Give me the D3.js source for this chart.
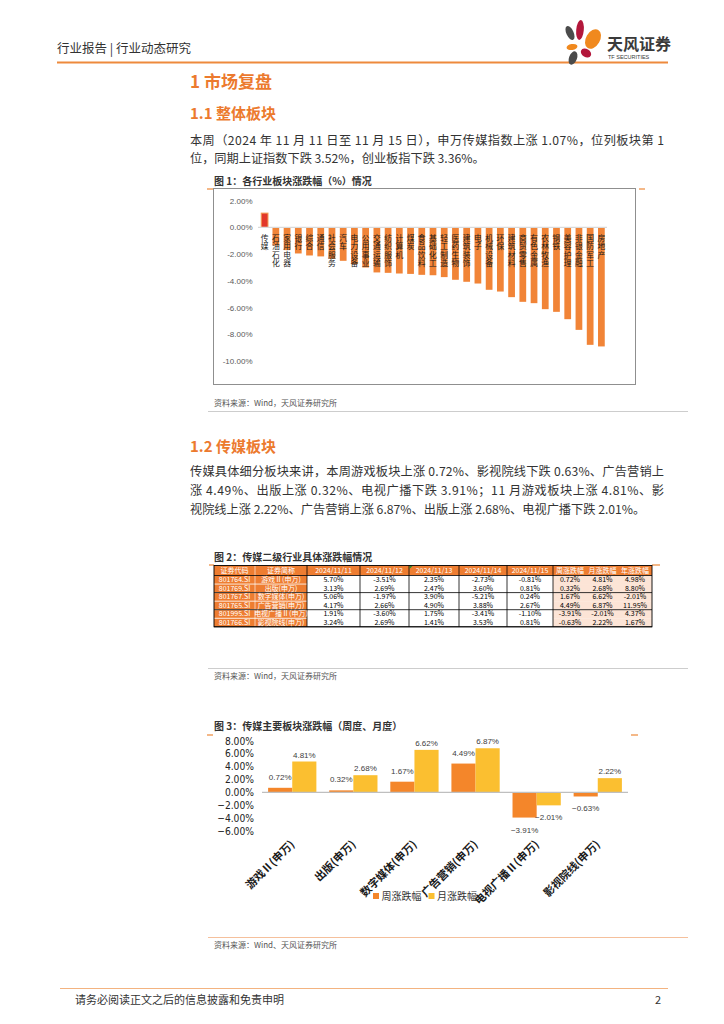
<!DOCTYPE html>
<html><head><meta charset="utf-8">
<script src="https://cdn.jsdelivr.net/npm/d3@7"></script>
<style>
html,body{margin:0;padding:0;background:#fff;}
svg{display:block;font-family:"Noto Sans CJK SC","Noto Sans",sans-serif;}
.vt{writing-mode:vertical-rl;text-orientation:upright;}
</style></head><body>
<svg id="page" width="724" height="1024"></svg>
<script>
// ---------- Figure 1 data ----------
const industries = ["传媒","石油石化","家用电器","银行","综合","通信","社会服务","汽车","电力设备","公用事业","交通运输","纺织服饰","计算机","煤炭","食品饮料","基础化工","轻工制造","医药生物","建筑装饰","电子","机械设备","环保","建筑材料","商贸零售","有色金属","农林牧渔","钢铁","美容护理","非银金融","国防军工","房地产"];
const industryChg = [1.07,-1.35,-1.70,-1.95,-2.10,-2.17,-2.35,-2.50,-2.75,-3.00,-3.37,-3.40,-3.45,-3.48,-3.55,-3.58,-3.72,-3.92,-4.07,-4.20,-4.67,-4.80,-5.22,-5.57,-5.67,-6.12,-6.32,-6.87,-7.67,-8.79,-8.91];
const fig1Ticks = [2,0,-2,-4,-6,-8,-10];

// ---------- Figure 2 data ----------
const tableCodes = ["801764.SI","801769.SI","801767.SI","801765.SI","801995.SI","801766.SI"];
const tableNames = ["游戏Ⅱ(申万)","出版(申万)","数字媒体(申万)","广告营销(申万)","电视广播Ⅱ(申万)","影视院线(申万)"];
const tableDates = ["2024/11/11","2024/11/12","2024/11/13","2024/11/14","2024/11/15"];
const dailyChg = [
  [5.70,-3.51,2.35,-2.73,-0.81],
  [3.13,2.69,2.47,3.60,0.81],
  [5.06,-1.97,3.90,-5.21,0.24],
  [4.17,2.66,4.90,3.88,2.67],
  [1.91,-3.60,1.75,-3.41,-1.10],
  [3.24,2.69,1.41,3.53,0.81]
];
const weekChg  = [0.72,0.32,1.67,4.49,-3.91,-0.63];
const monthChg = [4.81,2.68,6.62,6.87,-2.01,2.22];
const yearChg  = [4.98,8.80,-2.01,11.95,4.37,1.67];

// ---------- Figure 3 data ----------
const sectors = ["游戏Ⅱ(申万)","出版(申万)","数字媒体(申万)","广告营销(申万)","电视广播Ⅱ(申万)","影视院线(申万)"];
const seriesNames = ["周涨跌幅","月涨跌幅"];
const fig3Ticks = [8,6,4,2,0,-2,-4,-6];

// ---------- drawing ----------
const svg = d3.select("#page");
const ORANGE = "#EC7A2E";
const TXT = "#333";

// header
svg.append("text").attr("x",57).attr("y",53).attr("font-size",12.5).attr("fill",TXT).text("行业报告 | 行业动态研究");
svg.append("line").attr("x1",57).attr("x2",668).attr("y1",62.5).attr("y2",62.5).attr("stroke","#EE8A3C").attr("stroke-width",2);
const petals = [
  {cx:570,cy:33,rx:3.6,ry:7.5,r:-25,c:"#4b4b4b"},
  {cx:580,cy:30,rx:3.8,ry:10,r:5,c:"#B3173B"},
  {cx:593,cy:39,rx:7,ry:10.5,r:30,c:"#F0891E"},
  {cx:572,cy:47,rx:5.5,ry:3,r:-10,c:"#F0891E"},
  {cx:586,cy:53,rx:5.5,ry:4,r:30,c:"#B3173B"},
  {cx:573,cy:58,rx:4,ry:7,r:20,c:"#4b4b4b"}
];
svg.append("g").selectAll("ellipse").data(petals).join("ellipse")
  .attr("cx",d=>d.cx).attr("cy",d=>d.cy).attr("rx",d=>d.rx).attr("ry",d=>d.ry)
  .attr("transform",d=>`rotate(${d.r},${d.cx},${d.cy})`).attr("fill",d=>d.c);
svg.append("text").attr("x",607).attr("y",50).attr("font-size",16).attr("font-weight","bold").attr("fill","#3a3a3a").text("天风证券");
svg.append("text").attr("x",608).attr("y",58.5).attr("font-size",5.5).attr("fill","#3a3a3a").attr("font-family","Liberation Sans,Arial,sans-serif").text("TF SECURITIES");

// headings
svg.append("text").attr("x",190).attr("y",88).attr("font-size",17).attr("font-weight","bold").attr("fill",ORANGE).text("1 市场复盘");
svg.append("text").attr("x",190).attr("y",118.5).attr("font-size",15).attr("font-weight","bold").attr("fill",ORANGE).text("1.1 整体板块");
svg.append("text").attr("x",190).attr("y",451.5).attr("font-size",15).attr("font-weight","bold").attr("fill",ORANGE).text("1.2 传媒板块");

function para(lines, y0, dy){
  lines.forEach((l,i)=>{
    const t = svg.append("text").attr("x",190).attr("y",y0+i*dy).attr("font-size",12.2).attr("fill",TXT).text(l.t);
    if(l.j) t.attr("textLength",474).attr("lengthAdjust","spacing");
  });
}
para([
  {t:"本周（2024 年 11 月 11 日至 11 月 15 日），申万传媒指数上涨 1.07%，位列板块第 1", j:true},
  {t:"位，同期上证指数下跌 3.52%，创业板指下跌 3.36%。", j:false}
], 144.5, 18);
para([
  {t:"传媒具体细分板块来讲，本周游戏板块上涨 0.72%、影视院线下跌 0.63%、广告营销上", j:true},
  {t:"涨 4.49%、出版上涨 0.32%、电视广播下跌 3.91%；11 月游戏板块上涨 4.81%、影", j:true},
  {t:"视院线上涨 2.22%、广告营销上涨 6.87%、出版上涨 2.68%、电视广播下跌 2.01%。", j:false}
], 475.5, 19);

function figTitle(txt, y, tickY, lx, rx){
  svg.append("text").attr("x",214).attr("y",y).attr("font-size",10).attr("font-weight","bold").attr("fill",TXT).text(txt);
  svg.append("line").attr("x1",lx[0]).attr("x2",lx[1]).attr("y1",tickY).attr("y2",tickY).attr("stroke","#F0A060").attr("stroke-width",1.5);
  svg.append("line").attr("x1",rx[0]).attr("x2",rx[1]).attr("y1",tickY).attr("y2",tickY).attr("stroke","#F0A060").attr("stroke-width",1.5);
}
function source(txt, y){
  svg.append("text").attr("x",214).attr("y",y).attr("font-size",8).attr("fill","#555").text(txt);
}
function hline(y, color){
  svg.append("line").attr("x1",208).attr("x2",688).attr("y1",y).attr("y2",y).attr("stroke",color).attr("stroke-width",0.8);
}

// ---------- Figure 1 ----------
svg.append("rect").attr("x",213.5).attr("y",188.5).attr("width",422).attr("height",196).attr("fill","none").attr("stroke","#8f8f8f").attr("stroke-width",1);
figTitle("图 1：各行业板块涨跌幅（%）情况", 184.5, 189, [207,213], [639,645]);
const y1 = d3.scaleLinear().domain([-10,2]).range([361,200.7]);
const x1 = d3.scaleBand().domain(industries).range([259,607]).paddingInner(0.4).paddingOuter(0.2);
const g1 = svg.append("g");
g1.selectAll("text.yt").data(fig1Ticks).join("text").attr("class","yt")
  .attr("x",252.5).attr("y",d=>y1(d)+3).attr("text-anchor","end").attr("font-size",8)
  .attr("font-family","Liberation Sans,Arial,sans-serif").attr("fill","#595959").text(d=>d.toFixed(2)+"%");
g1.selectAll("rect.bar").data(industries).join("rect").attr("class","bar")
  .attr("x",d=>x1(d)).attr("width",x1.bandwidth())
  .attr("y",(d,i)=>Math.min(y1(0),y1(industryChg[i])))
  .attr("height",(d,i)=>Math.abs(y1(industryChg[i])-y1(0)))
  .attr("fill",(d,i)=>i===0?"#E2382A":"#F18437")
  .attr("stroke",(d,i)=>i===0?"#F39A50":"none").attr("stroke-width",1);
g1.append("line").attr("x1",258).attr("x2",607).attr("y1",y1(0)).attr("y2",y1(0)).attr("stroke","#d9d9d9").attr("stroke-width",1.2);
g1.selectAll("text.cat").data(industries).join("text").attr("class","cat vt")
  .attr("x",d=>x1(d)+x1.bandwidth()/2).attr("y",234)
  .attr("font-size",7.8).attr("letter-spacing",0.6).attr("fill","#1a1a1a").text(d=>d);
source("资料来源：Wind，天风证券研究所", 406);
hline(411.5, "#c0c0c0");

// ---------- Figure 2 (table) ----------
figTitle("图 2：传媒二级行业具体涨跌幅情况", 561, 565, [209,214], [652,660]);
const colX = [214,255,307,360,409,459,507,553,587,618,652];
const headers = ["证券代码","证券简称",...tableDates,"周涨跌幅","月涨跌幅","年涨跌幅"];
const fmt = v => v.toFixed(2)+"%";
const rows = tableCodes.map((c,i)=>[c, tableNames[i], ...dailyChg[i].map(fmt), fmt(weekChg[i]), fmt(monthChg[i]), fmt(yearChg[i])]);
const hdrY = 565.5, hdrH = 10, rowH = 8.55;
const rowTop = i => hdrY + hdrH + i*rowH;
const tg = svg.append("g");
tg.append("rect").attr("x",colX[0]).attr("y",hdrY).attr("width",colX[10]-colX[0]).attr("height",hdrH).attr("fill","#EE7D31");
rows.forEach((r,i)=>{
  r.forEach((cell,j)=>{
    let fill = "#fff";
    if(j<2) fill = "#EE7D31"; else if(j>=7) fill = "#FCE4D6";
    tg.append("rect").attr("x",colX[j]).attr("y",rowTop(i)).attr("width",colX[j+1]-colX[j]).attr("height",rowH).attr("fill",fill);
  });
});
rows.forEach((r,i)=>{ if(i>0) tg.append("line").attr("x1",colX[0]).attr("x2",colX[2]).attr("y1",rowTop(i)).attr("y2",rowTop(i)).attr("stroke","#fff").attr("stroke-width",0.8); });
tg.append("line").attr("x1",colX[1]).attr("x2",colX[1]).attr("y1",hdrY).attr("y2",rowTop(6)).attr("stroke","#fff").attr("stroke-width",0.6);
[2,3,4,5,6,7].forEach(j=>tg.append("line").attr("x1",colX[j]).attr("x2",colX[j]).attr("y1",hdrY).attr("y2",rowTop(6)).attr("stroke","#000").attr("stroke-width",0.8));
[0,2,4,6].forEach(i=>tg.append("line").attr("x1",colX[0]).attr("x2",colX[10]).attr("y1",rowTop(i)).attr("y2",rowTop(i)).attr("stroke","#000").attr("stroke-width",0.8));
tg.append("rect").attr("x",colX[0]).attr("y",hdrY).attr("width",colX[10]-colX[0]).attr("height",rowTop(6)-hdrY).attr("fill","none").attr("stroke","#000").attr("stroke-width",0.9);
tg.append("path").attr("d",`M${colX[4]+0.5},${hdrY+0.5} l3,0 l-3,3 z`).attr("fill","#2a8a2a");
headers.forEach((h,j)=>{
  tg.append("text").attr("x",(colX[j]+colX[j+1])/2).attr("y",hdrY+7.4).attr("text-anchor","middle")
    .attr("font-size",7).attr("fill","#fff").text(h);
});
rows.forEach((r,i)=>{
  r.forEach((cell,j)=>{
    tg.append("text").attr("x",(colX[j]+colX[j+1])/2).attr("y",rowTop(i)+6.6).attr("text-anchor","middle")
      .attr("font-size",7).attr("fill",j<2?"#fff":"#000").text(cell);
  });
});
hline(668.5, "#c0c0c0");
source("资料来源：Wind，天风证券研究所", 678.5);

// ---------- Figure 3 ----------
figTitle("图 3：传媒主要板块涨跌幅（周度、月度）", 730, 735, [207,213], [631,638]);
const values3 = [weekChg, monthChg];
const colors3 = ["#F4862A","#FBBF30"];
const y3 = d3.scaleLinear().domain([-6,8]).range([831,741]);
const x3 = d3.scaleBand().domain(sectors).range([262,628]).paddingInner(0.21).paddingOuter(0.1);
const xs = d3.scaleBand().domain(seriesNames).range([0,x3.bandwidth()]);
const g3 = svg.append("g");
const minus = v => (v<0?"\u2212":"")+Math.abs(v).toFixed(2)+"%";
g3.selectAll("text.yt").data(fig3Ticks).join("text").attr("class","yt")
  .attr("x",254).attr("y",d=>y3(d)+3.6).attr("text-anchor","end").attr("font-size",10.2)
  .attr("font-family","Liberation Sans Narrow,Arial Narrow,DejaVu Sans Condensed,sans-serif").attr("fill","#222").text(d=>minus(d));
seriesNames.forEach((s,k)=>{
  g3.selectAll("rect.s"+k).data(sectors).join("rect").attr("class","s"+k)
    .attr("x",d=>x3(d)+xs(s)).attr("width",xs.bandwidth())
    .attr("y",(d,i)=>Math.min(y3(0),y3(values3[k][i])))
    .attr("height",(d,i)=>Math.abs(y3(values3[k][i])-y3(0)))
    .attr("fill",colors3[k]);
});
g3.append("line").attr("x1",262).attr("x2",628).attr("y1",y3(0)).attr("y2",y3(0)).attr("stroke","#bfbfbf").attr("stroke-width",1.2);
seriesNames.forEach((s,k)=>{
  g3.selectAll("text.l"+k).data(sectors).join("text").attr("class","l"+k)
    .attr("x",d=>x3(d)+xs(s)+xs.bandwidth()/2)
    .attr("y",(d,i)=>{const v=values3[k][i]; return v>=0? y3(v)-(k===0?11:7)+3 : y3(v)+12+3;})
    .attr("text-anchor","middle").attr("font-size",8).attr("font-family","Liberation Sans,Arial,sans-serif")
    .attr("fill","#404040").text((d,i)=>minus(values3[k][i]));
});
g3.selectAll("text.xl").data(sectors).join("text").attr("class","xl")
  .attr("transform",d=>`translate(${x3(d)+x3.bandwidth()/2+3},${845}) rotate(-45)`)
  .attr("text-anchor","end").attr("font-size",11).attr("font-weight","bold").attr("fill","#1a1a1a").text(d=>d);
const lg = g3.append("g");
seriesNames.forEach((s,k)=>{
  const lx = 373 + k*55.5;
  lg.append("rect").attr("x",lx).attr("y",893).attr("width",6).attr("height",6).attr("fill",colors3[k]);
  lg.append("text").attr("x",lx+8.5).attr("y",900).attr("font-size",10).attr("fill","#333").text(s);
});
hline(937.5, "#F3B083");
source("资料来源：Wind、天风证券研究所", 948);

// footer
svg.append("line").attr("x1",60).attr("x2",668).attr("y1",988.5).attr("y2",988.5).attr("stroke","#F0A060").attr("stroke-width",0.8);
svg.append("text").attr("x",75).attr("y",1004).attr("font-size",11).attr("fill",TXT).text("请务必阅读正文之后的信息披露和免责申明");
svg.append("text").attr("x",655).attr("y",1004).attr("font-size",11).attr("fill",TXT).text("2");
</script>
</body></html>
